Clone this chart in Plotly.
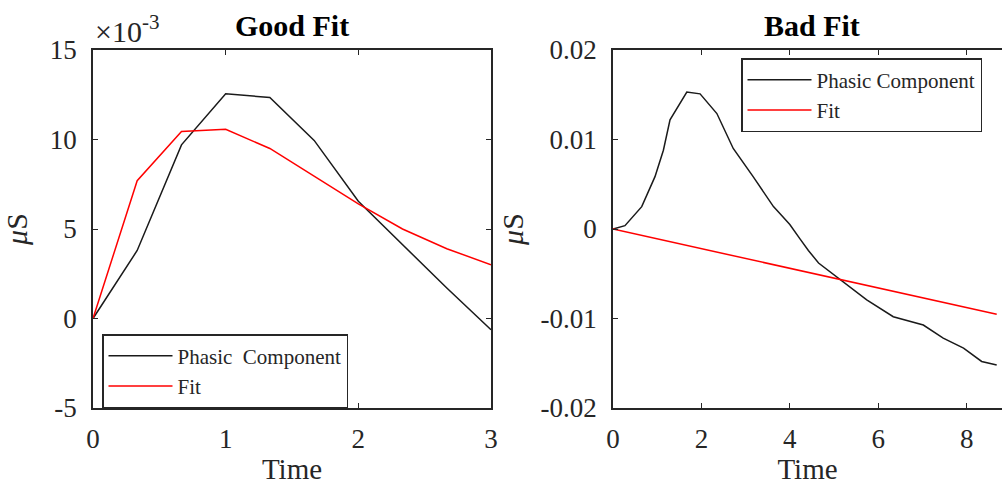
import plotly.graph_objects as go

# ---- data -------------------------------------------------------------
# Good fit panel (values in microsiemens)
good_time = [0, 0.333, 0.667, 1.0, 1.333, 1.667, 2.0, 2.333, 2.667, 3.0]
good_phasic = [0, 0.0038, 0.0097, 0.01255, 0.01235, 0.00995, 0.00655, 0.0041, 0.0017, -0.00063]
good_fit = [0, 0.0077, 0.01045, 0.01057, 0.0095, 0.00795, 0.0064, 0.005, 0.0039, 0.003]

# Bad fit panel
bad_time = [0, 0.27, 0.65, 0.95, 1.14, 1.29, 1.67, 1.97, 2.35, 2.72, 3.17, 3.63,
            3.78, 4.0, 4.23, 4.42, 4.65, 5.14, 5.74, 6.34, 7.02, 7.47, 7.93, 8.34, 8.68]
bad_phasic = [0, 0.00037, 0.0025, 0.00585, 0.0088, 0.0122, 0.0153, 0.0151, 0.0129,
              0.009, 0.00585, 0.0025, 0.0017, 0.0005, -0.0011, -0.0024, -0.0038,
              -0.0057, -0.00793, -0.0098, -0.01073, -0.0122, -0.0133, -0.0148, -0.0152]
bad_fit_time = [0, 8.68]
bad_fit = [0, -0.00953]

# Tick labels
good_xticks = [0, 1, 2, 3]
good_yticks = [-0.005, 0, 0.005, 0.01, 0.015]
good_ytext = ["-5", "0", "5", "10", "15"]
bad_xticks = [0, 2, 4, 6, 8]
bad_yticks = [-0.02, -0.01, 0, 0.01, 0.02]
bad_ytext = ["-0.02", "-0.01", "0", "0.01", "0.02"]

good_names = ["Phasic&nbsp;&nbsp;Component", "Fit"]
bad_names = ["Phasic Component", "Fit"]

# ---- styling ----------------------------------------------------------
W, H = 1002, 485
FONT = "Liberation Serif"
AX = "#262626"
BLACK = "#1a1a1a"
RED = "#ff0000"

left_dom = [93 / W, 491 / W]
right_dom = [613 / W, 1.0]
y_dom = [(H - 408) / H, (H - 50) / H]

fig = go.Figure()
fig.add_trace(go.Scatter(x=good_time, y=good_phasic, mode="lines", name=good_names[0],
                         line=dict(color=BLACK, width=1.5), xaxis="x", yaxis="y", legend="legend"))
fig.add_trace(go.Scatter(x=good_time, y=good_fit, mode="lines", name=good_names[1],
                         line=dict(color=RED, width=1.5), xaxis="x", yaxis="y", legend="legend"))
fig.add_trace(go.Scatter(x=bad_time, y=bad_phasic, mode="lines", name=bad_names[0],
                         line=dict(color=BLACK, width=1.5),
                         xaxis="x2", yaxis="y2", legend="legend2"))
fig.add_trace(go.Scatter(x=bad_fit_time, y=bad_fit, mode="lines", name=bad_names[1],
                         line=dict(color=RED, width=1.5), xaxis="x2", yaxis="y2", legend="legend2"))

axis_common = dict(showline=True, linecolor=AX, linewidth=1.5, ticks="inside", ticklen=5,
                   tickcolor=AX, tickwidth=1, showgrid=False, zeroline=False, automargin=False,
                   tickfont=dict(family=FONT, size=27, color=AX))

title_font = dict(family=FONT, size=30, color=AX)
xtitle_font = dict(family=FONT, size=29, color=AX)
legend_font = dict(family=FONT, size=21, color=AX)

fig.update_layout(
    width=W, height=H,
    margin=dict(l=0, r=0, t=0, b=0, autoexpand=False),
    paper_bgcolor="white", plot_bgcolor="white",
    xaxis=dict(domain=left_dom, range=[0, 3], tickvals=good_xticks, mirror="ticks",
               anchor="y", title=dict(text="Time", font=xtitle_font),
               ticklabelstandoff=6, **axis_common),
    yaxis=dict(domain=y_dom, range=[-0.005, 0.015], tickvals=good_yticks, ticktext=good_ytext,
               mirror="ticks", anchor="x", title=dict(text="<i>μ</i>S", font=title_font, standoff=22),
               ticklabelstandoff=9, **axis_common),
    xaxis2=dict(domain=right_dom, range=[0, 8.8], tickvals=bad_xticks, mirror="ticks",
                anchor="y2", title=dict(text="Time", font=xtitle_font),
                ticklabelstandoff=6, **axis_common),
    yaxis2=dict(domain=y_dom, range=[-0.02, 0.02], tickvals=bad_yticks, ticktext=bad_ytext,
                mirror=False, anchor="x2", title=dict(text="<i>μ</i>S", font=title_font, standoff=8),
                ticklabelstandoff=9, **axis_common),
    legend=dict(x=102 / W, y=(H - 334) / H, xanchor="left", yanchor="top",
                bgcolor="white", bordercolor=AX, borderwidth=1.5, itemwidth=64,
                font=legend_font, tracegroupgap=0),
    legend2=dict(x=741 / W, y=(H - 58) / H, xanchor="left", yanchor="top",
                 bgcolor="white", bordercolor=AX, borderwidth=1.5, itemwidth=64,
                 font=legend_font, tracegroupgap=0),
    annotations=[
        dict(text="<b>Good Fit</b>", x=sum(left_dom) / 2, y=y_dom[1], xref="paper", yref="paper",
             xanchor="center", yanchor="bottom", yshift=6, showarrow=False,
             font=dict(family=FONT, size=30, color="black")),
        dict(text="<b>Bad Fit</b>", x=812 / W, y=y_dom[1], xref="paper", yref="paper",
             xanchor="center", yanchor="bottom", yshift=6, showarrow=False,
             font=dict(family=FONT, size=30, color="black")),
        dict(text="×10<sup>-3</sup>", x=left_dom[0], y=y_dom[1], xref="paper", yref="paper",
             xanchor="left", yanchor="bottom", yshift=0, showarrow=False,
             font=dict(family=FONT, size=30, color=AX)),
    ],
    showlegend=True,
)

fig.write_html("out.html")
